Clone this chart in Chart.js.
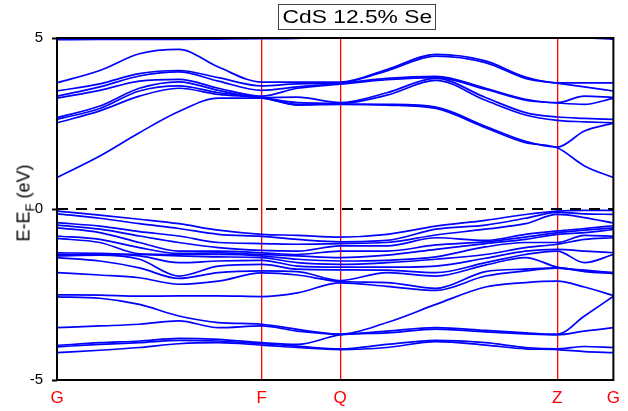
<!DOCTYPE html>
<html>
<head>
<meta charset="utf-8">
<script src="https://cdn.jsdelivr.net/npm/chart.js@4.4.0/dist/chart.umd.min.js"></script>
<style>
  html, body { margin: 0; padding: 0; background: #fff; }
  #wrap { position: relative; width: 628px; height: 411px; }
  #title {
    position: absolute; left: 278px; top: 4px; width: 158px; height: 26px;
    box-sizing: border-box; border: 1px solid #444; text-align: center;
    font: 19px "Liberation Sans", Arial, sans-serif; line-height: 24px; color: #000;
  }
  #title span { display: inline-block; transform: scaleX(1.2); }
  #ylab {
    position: absolute; left: 24px; top: 203px;
    transform: translate(-50%, -50%) rotate(-90deg);
    font: 18px "Liberation Sans", Arial, sans-serif; white-space: nowrap; color: #000;
  }
  #ylab sub { font-size: 13px; line-height: 0; }
</style>
</head>
<body>
<div id="wrap">
  <canvas id="bands" width="628" height="411"></canvas>
  <div id="title"><span>CdS 12.5% Se</span></div>
  <div id="ylab">E-E<sub>F</sub> (eV)</div>
</div>
<script>
  // k-path positions (fraction of total path length) where energies are sampled
  const kPath = [0, 0.077, 0.148, 0.219, 0.290, 0.368, 0.432, 0.509, 0.593, 0.681, 0.770, 0.842, 0.899, 0.948, 1.0];

  // high-symmetry points
  const kTicks = [0, 0.368, 0.509, 0.899, 1.0];
  const kLabels = ["G", "F", "Q", "Z", "G"];

  // conduction bands, E - E_F in eV
  const conductionBands = [
    [0.92, 1.55, 2.23, 2.85, 3.24, 3.24, 3.04, 3.06, 3.04, 2.94, 2.38, 1.94, 1.79, 1.26, 0.92],
    [2.52, 2.87, 3.30, 3.53, 3.35, 3.25, 3.06, 3.07, 3.06, 2.98, 2.42, 1.98, 1.81, 2.28, 2.51],
    [2.62, 2.94, 3.45, 3.60, 3.40, 3.26, 3.11, 3.09, 3.33, 3.76, 3.18, 2.75, 2.59, 2.55, 2.52],
    [2.67, 3.01, 3.53, 3.72, 3.47, 3.26, 3.27, 3.11, 3.40, 3.82, 3.26, 2.82, 2.69, 2.65, 2.62],
    [3.24, 3.47, 3.74, 3.79, 3.53, 3.30, 3.53, 3.65, 3.78, 3.84, 3.50, 3.18, 3.10, 3.06, 3.24],
    [3.30, 3.57, 3.89, 4.01, 3.74, 3.47, 3.57, 3.67, 3.82, 3.88, 3.53, 3.21, 3.11, 3.30, 3.26],
    [3.45, 3.66, 3.96, 4.05, 3.84, 3.60, 3.66, 3.69, 4.04, 4.47, 4.28, 3.82, 3.68, 3.57, 3.45],
    [3.69, 4.05, 4.54, 4.67, 4.15, 3.71, 3.71, 3.71, 4.08, 4.52, 4.33, 3.86, 3.69, 3.69, 3.69],
    [4.95, 4.96, 4.96, 4.96, 4.97, 4.98, 4.99, 5.10, 5.30, 5.40, 5.35, 5.20, 5.10, 5.02, 4.96]
  ];

  // valence bands, E - E_F in eV
  const valenceBands = [
    [-0.06, -0.18, -0.30, -0.43, -0.62, -0.74, -0.77, -0.82, -0.74, -0.50, -0.33, -0.16, -0.06, -0.04, -0.04],
    [-0.14, -0.27, -0.43, -0.57, -0.74, -0.80, -0.89, -0.96, -0.92, -0.59, -0.47, -0.27, -0.10, -0.14, -0.16],
    [-0.40, -0.50, -0.66, -0.79, -0.98, -1.01, -1.03, -1.01, -0.98, -0.76, -0.59, -0.43, -0.16, -0.25, -0.41],
    [-0.47, -0.59, -0.79, -0.98, -1.13, -1.21, -1.23, -1.08, -1.08, -0.84, -0.92, -0.74, -0.64, -0.57, -0.49],
    [-0.55, -0.69, -0.98, -1.23, -1.23, -1.28, -1.33, -1.23, -1.23, -1.05, -0.96, -0.82, -0.69, -0.62, -0.55],
    [-0.79, -0.89, -1.13, -1.30, -1.28, -1.33, -1.37, -1.42, -1.35, -1.18, -1.01, -0.89, -0.74, -0.69, -0.60],
    [-0.86, -0.98, -1.31, -1.33, -1.33, -1.37, -1.47, -1.52, -1.50, -1.40, -1.11, -0.98, -0.98, -0.77, -0.80],
    [-1.28, -1.30, -1.33, -1.37, -1.40, -1.42, -1.57, -1.62, -1.57, -1.47, -1.33, -1.13, -1.03, -0.89, -0.84],
    [-1.33, -1.33, -1.37, -1.57, -1.52, -1.50, -1.67, -1.70, -1.70, -1.67, -1.44, -1.23, -1.18, -1.23, -1.28],
    [-1.37, -1.35, -1.47, -1.96, -1.67, -1.62, -1.76, -1.78, -1.79, -1.86, -1.57, -1.33, -1.23, -1.57, -1.33],
    [-1.42, -1.52, -1.72, -2.03, -1.86, -1.81, -1.83, -2.09, -1.86, -1.96, -1.64, -1.42, -1.70, -1.79, -1.86],
    [-1.86, -1.93, -2.01, -2.20, -2.11, -1.87, -1.93, -2.12, -2.15, -2.32, -1.83, -1.76, -1.72, -1.81, -1.87],
    [-2.51, -2.52, -2.55, -2.54, -2.54, -2.56, -2.45, -2.16, -2.26, -2.38, -1.96, -1.81, -1.73, -1.83, -1.89],
    [-2.57, -2.61, -2.79, -3.13, -3.32, -3.37, -3.52, -3.66, -3.32, -2.79, -2.28, -2.15, -2.11, -2.28, -2.53],
    [-3.47, -3.42, -3.37, -3.27, -3.47, -3.42, -3.57, -3.66, -3.57, -3.47, -3.55, -3.62, -3.66, -3.13, -2.55],
    [-3.99, -3.91, -3.86, -3.78, -3.81, -3.91, -3.96, -3.68, -3.62, -3.51, -3.59, -3.65, -3.68, -3.57, -3.47],
    [-4.03, -3.96, -3.91, -3.84, -3.86, -3.94, -4.01, -4.09, -3.96, -3.84, -3.91, -4.05, -4.09, -4.02, -4.05],
    [-4.20, -4.13, -4.05, -3.94, -3.91, -3.98, -4.05, -4.11, -4.05, -3.88, -3.98, -4.09, -4.11, -4.17, -4.20]
  ];

  // Fermi level reference line
  const fermiLine = [0, 0];

  const FONT = "'Liberation Sans', Arial, sans-serif";

  function bandDataset(energies) {
    return {
      data: kPath.map((k, i) => ({ x: k, y: energies[i] })),
      borderColor: "#0000ff",
      borderWidth: 1.7,
      pointRadius: 0,
      cubicInterpolationMode: "monotone",
      fill: false
    };
  }

  // black box round the plot area
  const framePlugin = {
    id: "frame",
    afterDatasetsDraw(chart) {
      const { ctx, chartArea: a } = chart;
      ctx.save();
      ctx.strokeStyle = "#000";
      ctx.lineWidth = 2;
      ctx.strokeRect(a.left, a.top, a.right - a.left, a.bottom - a.top);
      ctx.restore();
    }
  };

  const datasets = [
    {
      data: [{ x: 0, y: fermiLine[0] }, { x: 1, y: fermiLine[1] }],
      borderColor: "#000",
      borderWidth: 2,
      borderDash: [11, 8],
      pointRadius: 0
    },
    ...conductionBands.map(bandDataset),
    ...valenceBands.map(bandDataset)
  ];

  new Chart(document.getElementById("bands"), {
    type: "line",
    data: { datasets },
    plugins: [framePlugin],
    options: {
      responsive: false,
      devicePixelRatio: 1,
      animation: false,
      layout: { padding: { top: 38, right: 9, left: 0, bottom: 0 } },
      plugins: { legend: { display: false }, tooltip: { enabled: false } },
      scales: {
        x: {
          type: "linear",
          min: 0,
          max: 1,
          afterFit: s => { s.height = 31; },
          afterBuildTicks: axis => { axis.ticks = kTicks.map(v => ({ value: v })); },
          border: { display: false },
          grid: {
            drawTicks: false,
            lineWidth: 1.3,
            color: c => (c.index === 0 || c.index === kTicks.length - 1) ? "rgba(0,0,0,0)" : "#ff0000"
          },
          ticks: {
            autoSkip: false,
            maxRotation: 0,
            padding: 8,
            color: "#ff0000",
            font: { family: FONT, size: 17 },
            callback: (v, i) => kLabels[i]
          }
        },
        y: {
          min: -5,
          max: 5,
          afterFit: s => { s.width = 57; },
          border: { display: false },
          grid: {
            drawOnChartArea: false,
            drawTicks: true,
            tickLength: 5,
            tickColor: "#000",
            tickWidth: 2
          },
          ticks: {
            stepSize: 5,
            padding: 9,
            color: "#000",
            font: { family: FONT, size: 15 }
          }
        }
      }
    }
  });
</script>
</body>
</html>
